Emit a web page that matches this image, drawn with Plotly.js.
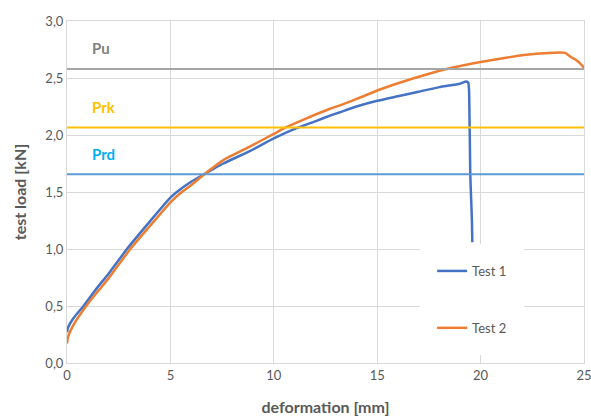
<!DOCTYPE html>
<html>
<head>
<meta charset="utf-8">
<script src="https://cdn.plot.ly/plotly-3.0.1.min.js"></script>
<style>html,body{margin:0;padding:0;background:#fff;}#chart{width:591px;height:420px;}</style>
</head>
<body>
<div id="chart"></div>
<script>
// Test 1 (blue)
var test1X = [0, 0.05, 0.3, 0.8, 1.5, 2.0, 2.9, 4.0, 5.0, 5.31, 6.0, 6.57, 7.56, 8.86, 10.0, 11.1, 12.0, 12.72, 13.2, 14.0, 15.0, 16.0, 17.0, 18.0, 19.0, 19.3, 19.4, 19.44, 19.46, 19.48, 19.5, 19.54, 19.58, 19.6];
var test1Y = [0.27, 0.31, 0.39, 0.50, 0.67, 0.78, 1.00, 1.24, 1.45, 1.50, 1.59, 1.65, 1.75, 1.86, 1.97, 2.06, 2.12, 2.17, 2.20, 2.25, 2.30, 2.34, 2.38, 2.42, 2.45, 2.47, 2.46, 2.40, 2.20, 1.95, 1.66, 1.45, 1.25, 1.06];
// Test 2 (orange)
var test2X = [0, 0.05, 0.3, 0.93, 1.5, 2.0, 3.06, 4.0, 5.0, 5.55, 6.0, 6.6, 7.56, 8.86, 10.0, 10.5, 11.5, 12.72, 13.2, 14.33, 15.0, 15.93, 17.55, 18.5, 20.0, 21.3, 22.0, 23.3, 24.1, 24.25, 24.4, 24.6, 24.8, 25.0];
var test2Y = [0.17, 0.23, 0.33, 0.50, 0.63, 0.74, 1.00, 1.20, 1.41, 1.50, 1.56, 1.65, 1.78, 1.90, 2.01, 2.06, 2.14, 2.23, 2.26, 2.34, 2.39, 2.45, 2.54, 2.585, 2.64, 2.68, 2.70, 2.72, 2.72, 2.70, 2.68, 2.66, 2.63, 2.59];
// reference load levels
var refNames = ['Pu', 'Prk', 'Prd'];
var refValues = [2.58, 2.065, 1.655];
var refLineColors = ['#A5A5A5', '#FFC000', '#5B9BD5'];
var refLabelColors = ['#7F7F7F', '#FFC000', '#00B0F0'];
var xRange = [0, 25];
var xTicks = [0, 5, 10, 15, 20, 25];
var yTicks = [0, 0.5, 1.0, 1.5, 2.0, 2.5, 3.0];

var font = 'Lato, "Open Sans", sans-serif';
var traces = [
  {x: test1X, y: test1Y, type: 'scatter', mode: 'lines', name: 'Test 1', legendgroup: 'a',
   line: {color: '#4472C4', width: 2.5, shape: 'spline', smoothing: 0.5}},
  {x: test2X, y: test2Y, type: 'scatter', mode: 'lines', name: 'Test 2', legendgroup: 'b',
   line: {color: '#ED7D31', width: 2.5, shape: 'spline', smoothing: 0.5}}
];
var annotations = [];
for (var i = 0; i < refValues.length; i++) {
  traces.push({x: xRange, y: [refValues[i], refValues[i]], type: 'scatter', mode: 'lines',
    showlegend: false, hoverinfo: 'skip', line: {color: refLineColors[i], width: 2}});
  annotations.push({x: 1.1, y: refValues[i] + 0.18, xref: 'x', yref: 'y', xanchor: 'left', yanchor: 'middle',
    text: '<b>' + refNames[i] + '</b>', showarrow: false, font: {family: font, size: 15, color: refLabelColors[i]}});
}

var layout = {
  width: 591, height: 420,
  margin: {l: 67, r: 7, t: 21, b: 57},
  paper_bgcolor: '#fff', plot_bgcolor: '#fff',
  separators: ',.',
  font: {family: font, size: 13, color: '#595959'},
  showlegend: true,
  legend: {x: 0.683, y: 0.348, xanchor: 'left', yanchor: 'top', bgcolor: '#fff',
    bordercolor: '#fff', borderwidth: 12, traceorder: 'grouped', tracegroupgap: 37,
    font: {family: font, size: 13, color: '#595959'}},
  xaxis: {range: xRange, tickvals: xTicks, ticktext: xTicks.map(String), showgrid: true, gridcolor: '#D9D9D9', gridwidth: 1,
    zeroline: false, showline: true, linecolor: '#D9D9D9', linewidth: 1, mirror: true, ticks: '',
    ticklabeloverflow: 'allow',
    tickfont: {family: font, size: 13, color: '#595959'},
    title: {text: '<b>deformation [mm]</b>', font: {family: font, size: 16, color: '#595959'}, standoff: 20}},
  yaxis: {range: [0, 3], tickvals: yTicks, tickformat: '.1f', showgrid: true, gridcolor: '#D9D9D9', gridwidth: 1,
    zeroline: false, showline: true, linecolor: '#D9D9D9', linewidth: 1, mirror: true, ticks: '',
    tickfont: {family: font, size: 13, color: '#595959'},
    title: {text: '<b>test load [kN]</b>', font: {family: font, size: 16, color: '#595959'}, standoff: 14}},
  annotations: annotations
};
Plotly.newPlot('chart', traces, layout, {staticPlot: true});
</script>
</body>
</html>
